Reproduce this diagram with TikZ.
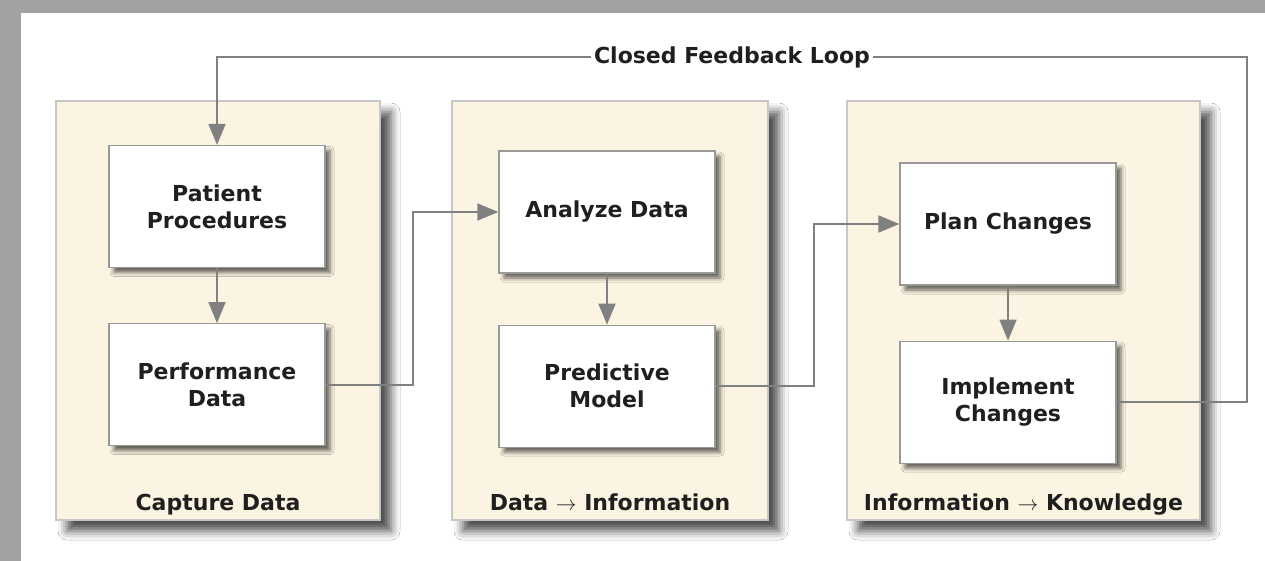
\documentclass[tikz,border=0pt]{standalone}
\usepackage{fontspec}
\setmainfont{DejaVu Sans}
\usepackage{tikz}
\usetikzlibrary{arrows.meta,positioning,shadows.blur}
\definecolor{panelcream}{HTML}{FCF4E2}
\definecolor{linegray}{HTML}{808080}
\definecolor{framegray}{HTML}{A2A2A2}

\begin{document}
\begin{tikzpicture}[
    x=1pt, y=-1pt,
    font=\bfseries\fontsize{22}{27}\selectfont, text=black!88,
    panel/.style={draw=black!22, line width=1.2pt, fill=panelcream, minimum height=419pt,
        blur shadow={shadow xshift=11pt, shadow yshift=-11pt, shadow blur radius=9pt, shadow opacity=70}},
    box/.style={draw=black!40, line width=1.2pt, fill=white, align=center, minimum width=216pt, minimum height=122pt,
        blur shadow={shadow xshift=5pt, shadow yshift=-5pt, shadow blur radius=4pt, shadow opacity=60}},
    tag/.style={anchor=base},
    arrow/.style={-{Triangle[length=21pt, width=17pt]}, draw=linegray, line width=1.8pt}
]
    % frame and canvas
    \fill[framegray] (0,0) rectangle (1265,561);
    \fill[white] (21,13) rectangle (1265,561);
    \useasboundingbox (0,0) rectangle (1265,561);

    % three stages
    \node[panel, minimum width=324pt] (cappanel) at (218,310.5) {};
    \node[panel, minimum width=316pt] (infopanel) at (610,310.5) {};
    \node[panel, minimum width=353pt] (knowpanel) at (1023.5,310.5) {};
    \node[tag] at ([yshift=10pt]cappanel.south) {Capture Data};
    \node[tag] at ([yshift=10pt]infopanel.south) {Data $\rightarrow$ Information};
    \node[tag] at ([yshift=10pt]knowpanel.south) {Information $\rightarrow$ Knowledge};

    \node[box] (patient) at (217,206.5) {Patient\\Procedures};
    \node[box, below=55pt of patient] (perfdata) {Performance\\Data};
    \node[box] (analyze) at (607,212) {Analyze Data};
    \node[box, below=51pt of analyze] (predict) {Predictive\\Model};
    \node[box] (plan) at (1008,224) {Plan Changes};
    \node[box, below=55pt of plan] (implement) {Implement\\Changes};

    \draw[arrow] (patient) -- (perfdata);
    \draw[arrow] (analyze) -- (predict);
    \draw[arrow] (plan) -- (implement);
    \draw[arrow] (perfdata.east) -- ++(87,0) |- (analyze.west);
    \draw[arrow] (predict.east) -- ++(98,0) |- (plan.west);

    % feedback loop
    \coordinate (loopcorner) at (1247,57);
    \draw[arrow] (implement.east) -| (loopcorner)
        -- node[fill=white, inner xsep=3pt, inner ysep=1pt]{Closed Feedback Loop} (loopcorner -| patient.north)
        -- (patient.north);
\end{tikzpicture}
\end{document}
